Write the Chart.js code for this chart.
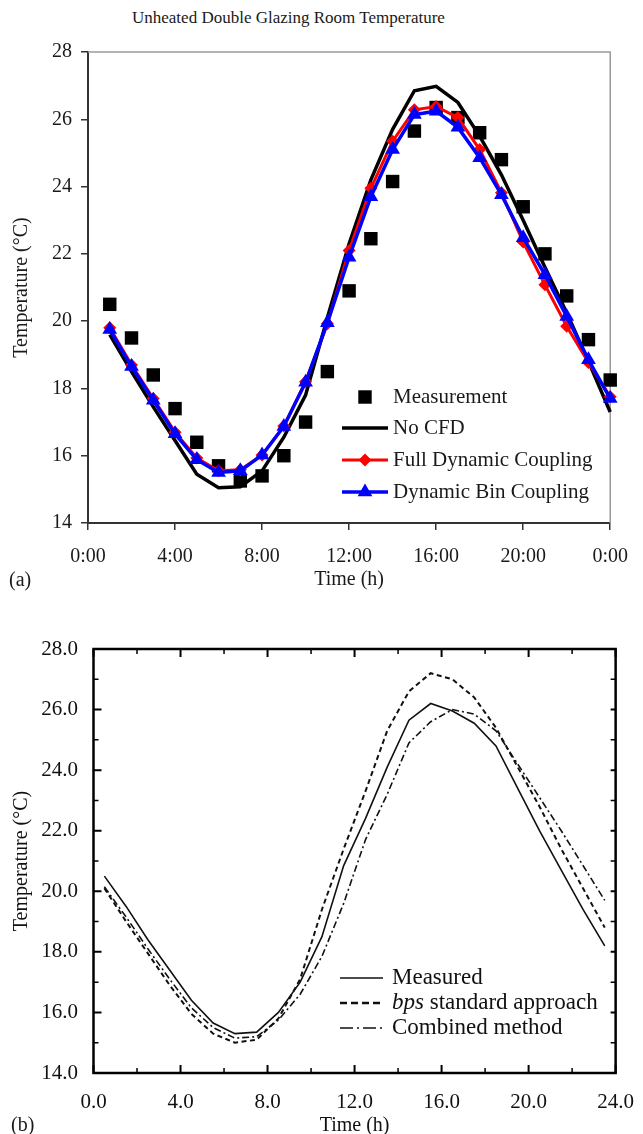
<!DOCTYPE html>
<html>
<head>
<meta charset="utf-8">
<script src="https://cdn.jsdelivr.net/npm/chart.js@4.4.1/dist/chart.umd.min.js"></script>
<style>
  html, body { margin: 0; padding: 0; background: #fff; overflow: hidden; }
  #page { position: relative; width: 643px; height: 1134px; font-family: "Liberation Serif", serif; color: #1a1a1a; }
  .lbl { position: absolute; white-space: nowrap; }
  #title { left: 132px; top: 9px; font-size: 17px; line-height: 17px; }
  #tagA { left: 9px; top: 569px; font-size: 20px; line-height: 20px; }
  #tagB { left: 11px; top: 1114px; font-size: 20px; line-height: 20px; }
  #chartA { position: absolute; left: 0; top: 0; }
  #chartB { position: absolute; left: 0; top: 596px; }
</style>
</head>
<body>
<div id="page">
  <div class="lbl" id="title">Unheated Double Glazing Room Temperature</div>
  <canvas id="chartA" width="643" height="600"></canvas>
  <div class="lbl" id="tagA">(a)</div>
  <canvas id="chartB" width="643" height="545"></canvas>
  <div class="lbl" id="tagB">(b)</div>
</div>
<script>
// ---- (a) hourly values, 1:00 .. 24:00
const HOURS_A = [1, 2, 3, 4, 5, 6, 7, 8, 9, 10, 11, 12, 13, 14, 15, 16, 17, 18, 19, 20, 21, 22, 23, 24];
const MEASUREMENT = [20.5, 19.5, 18.4, 17.4, 16.4, 15.7, 15.25, 15.4, 16.0, 17.0, 18.5, 20.9,
  22.45, 24.15, 25.65, 26.35, 26.05, 25.6, 24.8, 23.4, 22.0, 20.75, 19.45, 18.25];
const NO_CFD = [19.6, 18.5, 17.45, 16.45, 15.45, 15.05, 15.08, 15.55, 16.55, 17.8, 20.1, 22.3,
  24.2, 25.7, 26.85, 26.98, 26.5, 25.5, 24.35, 23.0, 21.6, 20.25, 18.8, 17.3];
const FULL_DYNAMIC = [19.8, 18.7, 17.7, 16.7, 15.93, 15.55, 15.58, 16.02, 16.88, 18.2, 19.92, 22.1,
  23.95, 25.35, 26.28, 26.38, 26.05, 25.1, 23.82, 22.35, 21.08, 19.85, 18.77, 17.75];
const DYNAMIC_BIN = [19.75, 18.65, 17.65, 16.65, 15.88, 15.5, 15.55, 16.02, 16.87, 18.18, 19.95, 21.9,
  23.7, 25.1, 26.14, 26.24, 25.76, 24.86, 23.76, 22.48, 21.38, 20.14, 18.85, 17.7];

// ---- (b) half-hour values, 0.5 .. 23.5
const HOURS_B = [0.5, 1.5, 2.5, 3.5, 4.5, 5.5, 6.5, 7.5, 8.5, 9.5, 10.5, 11.5, 12.5, 13.5, 14.5, 15.5,
  16.5, 17.5, 18.5, 19.5, 20.5, 21.5, 22.5, 23.5];
const MEASURED = [20.5, 19.5, 18.4, 17.4, 16.4, 15.65, 15.3, 15.35, 16.0, 17.0, 18.5, 20.85,
  22.4, 24.1, 25.65, 26.2, 25.95, 25.55, 24.8, 23.4, 22.0, 20.7, 19.4, 18.2];
const BPS_STANDARD = [20.1, 19.0, 17.95, 16.9, 15.95, 15.3, 15.0, 15.1, 15.8, 17.1, 19.4, 21.4,
  23.3, 25.3, 26.6, 27.2, 27.0, 26.4, 25.4, 24.1, 22.8, 21.4, 20.1, 18.8];
const COMBINED = [20.15, 19.15, 18.1, 17.1, 16.15, 15.5, 15.15, 15.2, 15.75, 16.6, 17.85, 19.6,
  21.7, 23.2, 24.9, 25.6, 26.0, 25.85, 25.3, 24.2, 23.1, 22.0, 20.85, 19.7];

const X_TICKS_STEP = 4;
const Y_TICKS_STEP = 2;

const SERIF = "'Liberation Serif', 'Times New Roman', serif";
const pts = (xs, ys) => xs.map((x, i) => ({ x, y: ys[i] }));

// small marker helper for the hand-placed legends
function marker(ctx, style, x, y, r, color) {
  ctx.save();
  ctx.fillStyle = color;
  ctx.beginPath();
  if (style === "rect") {
    const s = Math.SQRT1_2 * r;
    ctx.rect(x - s, y - s, 2 * s, 2 * s);
  } else if (style === "rectRot") {
    ctx.moveTo(x, y - r); ctx.lineTo(x + r, y); ctx.lineTo(x, y + r); ctx.lineTo(x - r, y);
  } else if (style === "triangle") {
    for (let k = 0; k < 3; k++) {
      const a = k * 2 * Math.PI / 3;
      ctx[k ? "lineTo" : "moveTo"](x + Math.sin(a) * r, y - Math.cos(a) * r);
    }
  }
  ctx.closePath();
  ctx.fill();
  ctx.restore();
}

// ---------------- chart (a)
const frameA = {
  id: "frameA",
  beforeDatasetsDraw(chart) {
    const { ctx, chartArea: a } = chart;
    ctx.save();
    ctx.strokeStyle = "#9a9a9a";
    ctx.lineWidth = 1.5;
    ctx.beginPath();
    ctx.moveTo(a.left, a.top); ctx.lineTo(a.right, a.top); ctx.lineTo(a.right, a.bottom);
    ctx.stroke();
    ctx.restore();
  },
  afterDraw(chart) {
    const ctx = chart.ctx;
    const rows = [
      { label: "Measurement", y: 397, line: null, style: "rect", r: 9.5 },
      { label: "No CFD", y: 428, line: "#000", lw: 3.5, style: null },
      { label: "Full Dynamic Coupling", y: 460, line: "#ff0000", lw: 3, style: "rectRot", r: 6.5 },
      { label: "Dynamic Bin Coupling", y: 492, line: "#0000ff", lw: 3.5, style: "triangle", r: 8.5 },
    ];
    ctx.save();
    for (const row of rows) {
      if (row.line) {
        ctx.strokeStyle = row.line;
        ctx.lineWidth = row.lw;
        ctx.beginPath(); ctx.moveTo(342, row.y); ctx.lineTo(388, row.y); ctx.stroke();
      }
      if (row.style) marker(ctx, row.style, 365, row.y, row.r, row.line || "#000");
      ctx.fillStyle = "#1a1a1a";
      ctx.font = "21px " + SERIF;
      ctx.textBaseline = "middle";
      ctx.fillText(row.label, 393, row.y);
    }
    ctx.restore();
  },
};

const axisFontA = { family: SERIF, size: 20, lineHeight: 1.2 };

new Chart(document.getElementById("chartA"), {
  type: "line",
  data: {
    datasets: [
      { label: "Measurement", data: pts(HOURS_A, MEASUREMENT), showLine: false, pointStyle: "rect",
        pointRadius: 9.5, pointBackgroundColor: "#000", pointBorderWidth: 0, order: 3, clip: false },
      { label: "No CFD", data: pts(HOURS_A, NO_CFD), borderColor: "#000", borderWidth: 3.5,
        pointRadius: 0, order: 2, clip: false },
      { label: "Full Dynamic Coupling", data: pts(HOURS_A, FULL_DYNAMIC), borderColor: "#ff0000",
        borderWidth: 3, pointStyle: "rectRot", pointRadius: 6.5, pointBackgroundColor: "#ff0000",
        pointBorderWidth: 0, order: 1, clip: false },
      { label: "Dynamic Bin Coupling", data: pts(HOURS_A, DYNAMIC_BIN), borderColor: "#0000ff",
        borderWidth: 3.5, pointStyle: "triangle", pointRadius: 8.5, pointBackgroundColor: "#0000ff",
        pointBorderWidth: 0, order: 0, clip: false },
    ],
  },
  options: {
    responsive: false,
    animation: false,
    events: [],
    layout: { padding: { top: 52, right: 23, left: 0, bottom: 0 } },
    elements: { line: { tension: 0 } },
    plugins: { legend: { display: false }, tooltip: { enabled: false } },
    scales: {
      x: {
        type: "linear", min: 0, max: 24,
        afterFit: (s) => { s.height = 77; },
        ticks: { stepSize: X_TICKS_STEP, padding: 15, color: "#1a1a1a", font: axisFontA,
          maxRotation: 0, autoSkip: false, callback: (v) => (v % 24) + ":00" },
        grid: { drawOnChartArea: false, tickLength: 7, color: "#333", lineWidth: 1.5 },
        border: { color: "#333", width: 2 },
        title: { display: true, text: "Time (h)", color: "#1a1a1a", font: axisFontA,
          padding: { top: 0, bottom: 8 } },
      },
      y: {
        min: 14, max: 28,
        afterFit: (s) => { s.width = 88; },
        ticks: { stepSize: Y_TICKS_STEP, padding: 9, color: "#1a1a1a", font: axisFontA },
        grid: { drawOnChartArea: false, tickLength: 7, color: "#333", lineWidth: 1.5 },
        border: { color: "#333", width: 2 },
        title: { display: true, text: "Temperature (°C)", color: "#1a1a1a", font: axisFontA,
          padding: { top: 10, bottom: 0 } },
      },
    },
  },
  plugins: [frameA],
});

// ---------------- chart (b)
const frameB = {
  id: "frameB",
  afterDatasetsDraw(chart) {
    const { ctx, chartArea: a, scales } = chart;
    ctx.save();
    ctx.strokeStyle = "#000";
    for (let v = 0; v <= 24; v += 2) {
      const major = v % 4 === 0;
      const x = scales.x.getPixelForValue(v);
      ctx.lineWidth = major ? 2 : 1.5;
      const len = major ? 8 : 5;
      ctx.beginPath();
      ctx.moveTo(x, a.bottom); ctx.lineTo(x, a.bottom - len);
      ctx.moveTo(x, a.top); ctx.lineTo(x, a.top + len);
      ctx.stroke();
    }
    for (let v = 14; v <= 28; v += 1) {
      const major = v % 2 === 0;
      const y = scales.y.getPixelForValue(v);
      ctx.lineWidth = major ? 2 : 1.5;
      const len = major ? 8 : 5;
      ctx.beginPath();
      ctx.moveTo(a.left, y); ctx.lineTo(a.left + len, y);
      ctx.moveTo(a.right, y); ctx.lineTo(a.right - 5, y);
      ctx.stroke();
    }
    ctx.lineWidth = 2.5;
    ctx.strokeRect(a.left, a.top, a.right - a.left, a.bottom - a.top);
    ctx.restore();
  },
  afterDraw(chart) {
    const ctx = chart.ctx;
    const rows = [
      { y: 382, dash: [], lw: 1.5 },
      { y: 407, dash: [7, 4], lw: 2.5 },
      { y: 432, dash: [13, 4, 2, 4], lw: 1.5 },
    ];
    ctx.save();
    ctx.strokeStyle = "#111";
    for (const row of rows) {
      ctx.setLineDash(row.dash);
      ctx.lineWidth = row.lw;
      ctx.beginPath(); ctx.moveTo(340, row.y); ctx.lineTo(383, row.y); ctx.stroke();
    }
    ctx.setLineDash([]);
    ctx.fillStyle = "#111";
    ctx.textBaseline = "middle";
    ctx.font = "23px " + SERIF;
    ctx.fillText("Measured", 392, rows[0].y);
    ctx.font = "italic 23px " + SERIF;
    ctx.fillText("bps", 392, rows[1].y);
    const w = ctx.measureText("bps").width;
    ctx.font = "23px " + SERIF;
    ctx.fillText(" standard approach", 392 + w, rows[1].y);
    ctx.fillText("Combined method", 392, rows[2].y);
    ctx.restore();
  },
};

const axisFontB = { family: SERIF, size: 21, lineHeight: 1.2 };
const titleFontB = { family: SERIF, size: 20, lineHeight: 1.2 };

new Chart(document.getElementById("chartB"), {
  type: "line",
  data: {
    datasets: [
      { label: "Measured", data: pts(HOURS_B, MEASURED), borderColor: "#111", borderWidth: 1.6,
        pointRadius: 0 },
      { label: "bps standard approach", data: pts(HOURS_B, BPS_STANDARD), borderColor: "#111",
        borderWidth: 2, borderDash: [5, 3.5], pointRadius: 0 },
      { label: "Combined method", data: pts(HOURS_B, COMBINED), borderColor: "#111",
        borderWidth: 1.6, borderDash: [7, 3, 2, 3], pointRadius: 0 },
    ],
  },
  options: {
    responsive: false,
    animation: false,
    events: [],
    layout: { padding: { top: 53, right: 23, left: 0, bottom: 0 } },
    elements: { line: { tension: 0 } },
    plugins: { legend: { display: false }, tooltip: { enabled: false } },
    scales: {
      x: {
        type: "linear", min: 0, max: 24,
        afterFit: (s) => { s.height = 68; },
        ticks: { stepSize: X_TICKS_STEP, padding: 9, color: "#111", font: axisFontB,
          maxRotation: 0, autoSkip: false, callback: (v) => v.toFixed(1) },
        grid: { display: false },
        border: { display: false },
        title: { display: true, text: "Time (h)", color: "#111", font: titleFontB,
          padding: { top: 0, bottom: 3 } },
      },
      y: {
        min: 14, max: 28,
        afterFit: (s) => { s.width = 93.5; },
        ticks: { stepSize: Y_TICKS_STEP, padding: 7.5, color: "#111", font: axisFontB,
          callback: (v) => v.toFixed(1) },
        grid: { display: false },
        border: { display: false },
        title: { display: true, text: "Temperature (°C)", color: "#111", font: titleFontB,
          padding: { top: 10, bottom: 0 } },
      },
    },
  },
  plugins: [frameB],
});
</script>
</body>
</html>
